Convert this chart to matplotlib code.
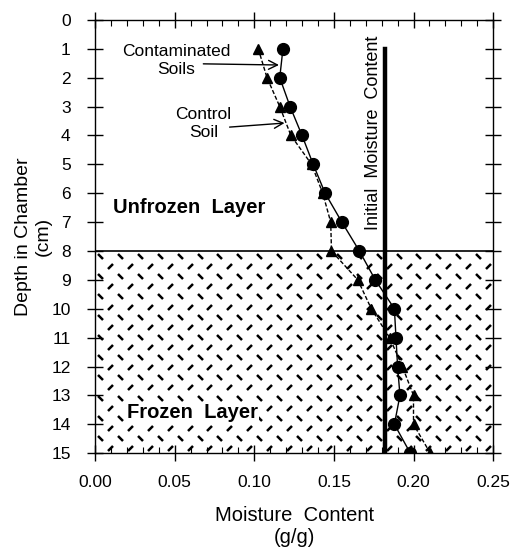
import numpy as np
import matplotlib
matplotlib.use("Agg")
import matplotlib.pyplot as plt
from matplotlib.path import Path
from matplotlib.ticker import MultipleLocator

plt.rcParams['font.family'] = ['Liberation Sans', 'DejaVu Sans']

# data
depth = [1, 2, 3, 4, 5, 6, 7, 8, 9, 10, 11, 12, 13, 14, 15]
contaminated = [0.118, 0.116, 0.1225, 0.130, 0.137, 0.1445, 0.155, 0.166,
                0.176, 0.188, 0.189, 0.190, 0.1915, 0.188, 0.198]
control = [0.1025, 0.108, 0.116, 0.123, 0.136, 0.143, 0.148, 0.1485,
           0.165, 0.1735, 0.185, 0.193, 0.200, 0.200, 0.2105]
initial_moisture = 0.182
initial_depth = [1, 15]
frozen_top = 8
x_ticks = [0.00, 0.05, 0.10, 0.15, 0.20, 0.25]
y_ticks = list(range(0, 16))

fig = plt.figure(figsize=(5.11, 5.54), dpi=100)
ax = fig.add_axes([0.186, 0.182, 0.779, 0.782])
ax.set_xlim(0, 0.25)
ax.set_ylim(15, 0)

# frozen layer hatch: short dashes on every other cell, "\" and "/" rows alternate
back = Path([(-1, 1), (1, -1)], [Path.MOVETO, Path.LINETO])
fwd = Path([(-1, -1), (1, 1)], [Path.MOVETO, Path.LINETO])
dx = 0.25 / 40
dy = (15 - frozen_top) / 20
xs = np.arange(dx / 2, 0.25, dx)
ys = np.arange(frozen_top + dy / 2, 15, dy)
gx, gy = np.meshgrid(np.arange(len(xs)), np.arange(len(ys)))
on = (gx + gy) % 2 == 0
row_b = on & (gy % 2 == 0)
row_f = on & (gy % 2 == 1)
ax.plot(xs[gx[row_b]], ys[gy[row_b]], ls='none', marker=back, ms=3.6,
        mew=1.8, color='black', zorder=1)
ax.plot(xs[gx[row_f]], ys[gy[row_f]], ls='none', marker=fwd, ms=3.6,
        mew=1.8, color='black', zorder=1)
ax.axhline(frozen_top, color='black', lw=1.2, zorder=2)

ax.text(0.061, 13.6, 'Frozen  Layer', fontsize=14.5, fontweight='bold',
        ha='center', va='center', zorder=3,
        bbox=dict(facecolor='white', edgecolor='none', pad=1))
ax.text(0.011, 6.5, 'Unfrozen  Layer', fontsize=14.5, fontweight='bold',
        ha='left', va='center', zorder=3)

# initial moisture line
ax.plot([initial_moisture, initial_moisture], initial_depth, color='black',
        lw=3.2, zorder=4)
ax.text(0.175, 3.9, 'Initial  Moisture  Content',
        rotation=90, fontsize=13, ha='center', va='center')

# profiles
ax.plot(contaminated, depth, '-', color='black', lw=1, marker='o', ms=8.5,
        zorder=5)
ax.plot(control, depth, '--', dashes=(3, 1.5), color='black', lw=1,
        marker='^', ms=7, zorder=5)

ax.text(0.051, 1.42, 'Contaminated\nSoils', fontsize=12.5, ha='center',
        va='center', linespacing=1.25)
ax.annotate('', xy=(0.1155, 1.56), xytext=(0.068, 1.52),
            arrowprops=dict(arrowstyle='->', lw=1, color='black',
                            mutation_scale=16, shrinkA=0, shrinkB=0))
ax.text(0.068, 3.6, 'Control\nSoil', fontsize=12.5, ha='center',
        va='center', linespacing=1.25)
ax.annotate('', xy=(0.119, 3.57), xytext=(0.0845, 3.71),
            arrowprops=dict(arrowstyle='->', lw=1, color='black',
                            mutation_scale=16, shrinkA=0, shrinkB=0))

# axes styling
ax.set_xticks(x_ticks)
ax.set_xticklabels(['%.2f' % v for v in x_ticks])
ax.set_yticks(y_ticks)
ax.xaxis.set_minor_locator(MultipleLocator(0.01))
ax.tick_params(which='major', direction='inout', length=11, width=1,
               top=True, right=True, labelsize=12.5)
ax.tick_params(axis='x', which='major', pad=10)
ax.tick_params(axis='y', which='major', pad=12)
ax.tick_params(which='minor', direction='in', length=4, width=0.8,
               top=True, right=True)
for s in ax.spines.values():
    s.set_linewidth(1)

ax.set_xlabel('Moisture  Content\n(g/g)', fontsize=14.5, labelpad=12,
              linespacing=1.2)
ax.set_ylabel('Depth in Chamber\n(cm)', fontsize=14, linespacing=1.2)
ax.yaxis.set_label_coords(-0.11, 0.5)

fig.savefig('out.png', dpi=100)
